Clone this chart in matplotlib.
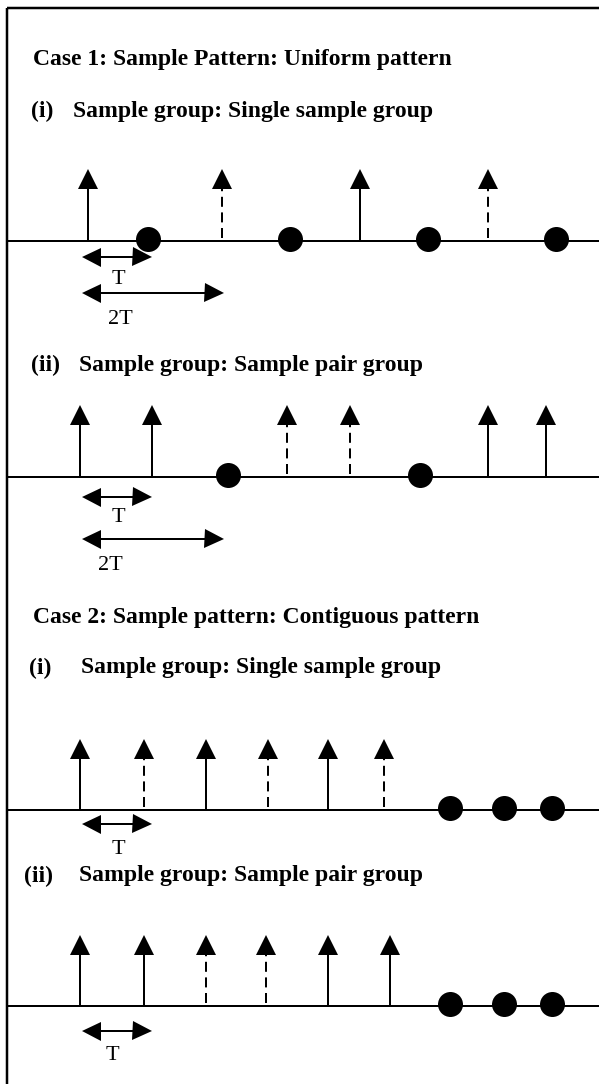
import matplotlib
matplotlib.use("Agg")
import matplotlib.pyplot as plt

W, H = 599, 1084
DPI = 100

# ---------------- data (pixel-space layout of the schematic) ----------------
titles = [
    ("Case 1: Sample Pattern: Uniform pattern", 33, 59),
    ("Case 2: Sample pattern: Contiguous pattern", 33, 618),
]
subtitles = [
    ("(i)", "Sample group: Single sample group", 31, 73, 111),
    ("(ii)", "Sample group: Sample pair group", 31, 79, 365),
    ("(i)", "Sample group: Single sample group", 29, 81, 668),
    ("(ii)", "Sample group: Sample pair group", 24, 79, 876),
]

# each panel: baseline y, arrow tip y, solid pulse x, dashed pulse x, dot x
p_baseline = [241, 477, 810, 1006]
p_tip = [169, 405, 739, 935]
p_solid = [[88, 360], [80, 152, 488, 546], [80, 206, 328], [80, 144, 328, 390]]
p_dashed = [[222, 488], [287, 350], [144, 268, 384], [206, 266]]
p_dots = [[148, 290, 428, 556], [228, 420], [450, 504, 552], [450, 504, 552]]

# interval markers: (x_start, x_end, y, label, label_x, label_y)
intervals = [
    (81, 151, 257, "T", 118, 279),
    (81, 223, 293, "2T", 120, 319),
    (81, 151, 497, "T", 118, 518),
    (81, 223, 539, "2T", 110, 566),
    (81, 151, 824, "T", 118, 850),
    (81, 151, 1031, "T", 112, 1055),
]

# ---------------- drawing ----------------
fig = plt.figure(figsize=(W / DPI, H / DPI), dpi=DPI)
ax = fig.add_axes([0, 0, 1, 1])
ax.set_xlim(0, W)
ax.set_ylim(H, 0)
ax.axis("off")

serif = ["Liberation Serif", "DejaVu Serif"]
k = "black"
px = 72.0 / DPI  # points per pixel
FS = 17

# frame (top and left edges visible)
ax.plot([7, 7], [8, H + 5], color=k, lw=2.5 * px, solid_capstyle="butt")
ax.plot([7, W + 5], [8, 8], color=k, lw=2.5 * px, solid_capstyle="butt")

for text, x, y in titles:
    ax.text(x, y, text, fontsize=FS, fontweight="bold", family=serif,
            ha="left", va="center")
for lab, text, xl, xt, y in subtitles:
    ax.text(xl, y, lab, fontsize=FS, fontweight="bold", family=serif,
            ha="left", va="center")
    ax.text(xt, y, text, fontsize=FS, fontweight="bold", family=serif,
            ha="left", va="center")

head_ms = 20 * px  # marker size in points for a ~20 px head
head_h = 20

for base, tip, sol, das, dots in zip(p_baseline, p_tip, p_solid, p_dashed, p_dots):
    ax.plot([7, W + 5], [base, base], color=k, lw=2 * px, solid_capstyle="butt")
    for x in sol:
        ax.plot([x, x], [base, tip + head_h - 1], color=k, lw=2 * px,
                solid_capstyle="butt")
        ax.plot([x], [tip + head_h / 2], marker="^", ms=head_ms, color=k,
                mec=k, mew=0)
    for x in das:
        ax.plot([x, x], [base - 3, tip + head_h], color=k, lw=2 * px,
                dashes=(5, 2.8), solid_capstyle="butt", dash_capstyle="butt")
        ax.plot([x], [tip + head_h / 2], marker="^", ms=head_ms, color=k,
                mec=k, mew=0)
    for x in dots:
        ax.plot([x], [base - 2], marker="o", ms=25 * px, color=k, mec=k, mew=0)

for x0, x1, y, lab, lx, ly in intervals:
    ax.plot([x0 + 10, x1 - 10], [y, y], color=k, lw=2 * px, solid_capstyle="butt")
    ax.plot([x0 + 9.5], [y], marker="<", ms=19 * px, color=k, mew=0)
    ax.plot([x1 - 9.5], [y], marker=">", ms=19 * px, color=k, mew=0)
    ax.text(lx, ly, lab, fontsize=16, family=serif, ha="center", va="center")

fig.savefig("out.png", dpi=DPI, facecolor="white")
